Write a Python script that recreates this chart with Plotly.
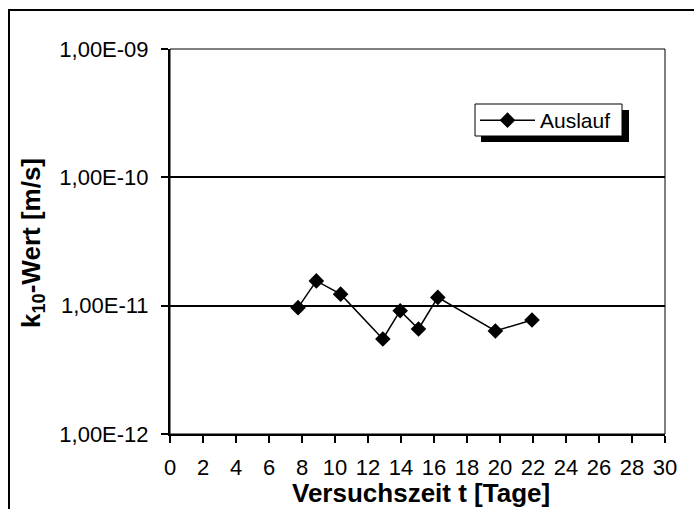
import plotly.graph_objects as go

# Data
days = [7.76, 8.87, 10.34, 12.90, 13.95, 15.06, 16.23, 19.72, 21.94]
k10 = [9.65e-12, 1.56e-11, 1.23e-11, 5.50e-12, 9.14e-12, 6.58e-12, 1.16e-11, 6.35e-12, 7.74e-12]
series_name = "Auslauf"
y_tickvals = [1e-12, 1e-11, 1e-10, 1e-9]
y_ticktext = ["1,00E-12", "1,00E-11", "1,00E-10", "1,00E-09"]
x_title = "<b>Versuchszeit t [Tage]</b>"
y_title = "<b>k<sub>10</sub>-Wert [m/s]</b>"

W, H = 694, 509
L, R, T, B = 170, 29, 49, 75
pw, ph = W - L - R, H - T - B

def px_x(x):
    return (x - L) / pw

def px_y(y):
    return (H - B - y) / ph

fig = go.Figure()
fig.add_trace(go.Scatter(
    x=days, y=k10, name=series_name, mode="lines+markers",
    line=dict(color="black", width=1.5),
    marker=dict(symbol="diamond", size=12, color="black"),
))

font = "Arial, Liberation Sans, sans-serif"
fig.update_layout(
    width=W, height=H,
    margin=dict(l=L, r=R, t=T, b=B),
    paper_bgcolor="white", plot_bgcolor="white",
    font=dict(family=font, size=21, color="black"),
    showlegend=True,
    legend=dict(
        x=px_x(475), y=px_y(100), xanchor="left", yanchor="top",
        bgcolor="rgba(0,0,0,0)", borderwidth=0,
        font=dict(size=21), itemwidth=55,
    ),
    xaxis=dict(
        range=[0, 30], dtick=2, tick0=0, showgrid=False, zeroline=False,
        showline=True, linecolor="black", linewidth=2,
        ticks="outside", ticklen=7, tickwidth=1.5, tickcolor="black",
        tickfont=dict(size=22), ticklabelstandoff=6,
    ),
    yaxis=dict(
        type="log", range=[-12, -9], tickvals=y_tickvals, ticktext=y_ticktext,
        showgrid=True, gridcolor="black", gridwidth=1.5, zeroline=False,
        showline=True, linecolor="black", linewidth=2,
        ticks="outside", ticklen=7, tickwidth=1.5, tickcolor="black",
        tickfont=dict(size=22), ticklabelstandoff=8,
    ),
)

# plot box (thin top/right)
fig.add_shape(type="rect", xref="paper", yref="paper", x0=0, x1=1, y0=0, y1=1,
              line=dict(color="black", width=1), layer="above")
# outer frame
fig.add_shape(type="rect", xref="paper", yref="paper",
              x0=px_x(9), x1=px_x(W + 10), y0=px_y(H + 10), y1=px_y(10),
              line=dict(color="black", width=2))
# legend shadow and box
fig.add_shape(type="rect", xref="paper", yref="paper",
              x0=px_x(481), x1=px_x(629), y0=px_y(142), y1=px_y(110),
              fillcolor="black", line=dict(width=0), layer="above")
fig.add_shape(type="rect", xref="paper", yref="paper",
              x0=px_x(475), x1=px_x(622), y0=px_y(136), y1=px_y(104),
              fillcolor="white", line=dict(color="black", width=1), layer="above")

fig.add_annotation(text=x_title, xref="paper", yref="paper",
                   x=px_x(421), y=px_y(493), showarrow=False,
                   xanchor="center", yanchor="middle", font=dict(size=26))
fig.add_annotation(text=y_title, xref="paper", yref="paper",
                   x=px_x(33), y=px_y(243), showarrow=False, textangle=-90,
                   xanchor="center", yanchor="middle", font=dict(size=26))

fig.write_html("out.html", config={"displayModeBar": False})

with open("out.html", "r", encoding="utf-8") as f:
    html = f.read()
html = html.replace("<head>", "<head><style>html,body{margin:0;padding:0;overflow:hidden;}</style>", 1)
with open("out.html", "w", encoding="utf-8") as f:
    f.write(html)
